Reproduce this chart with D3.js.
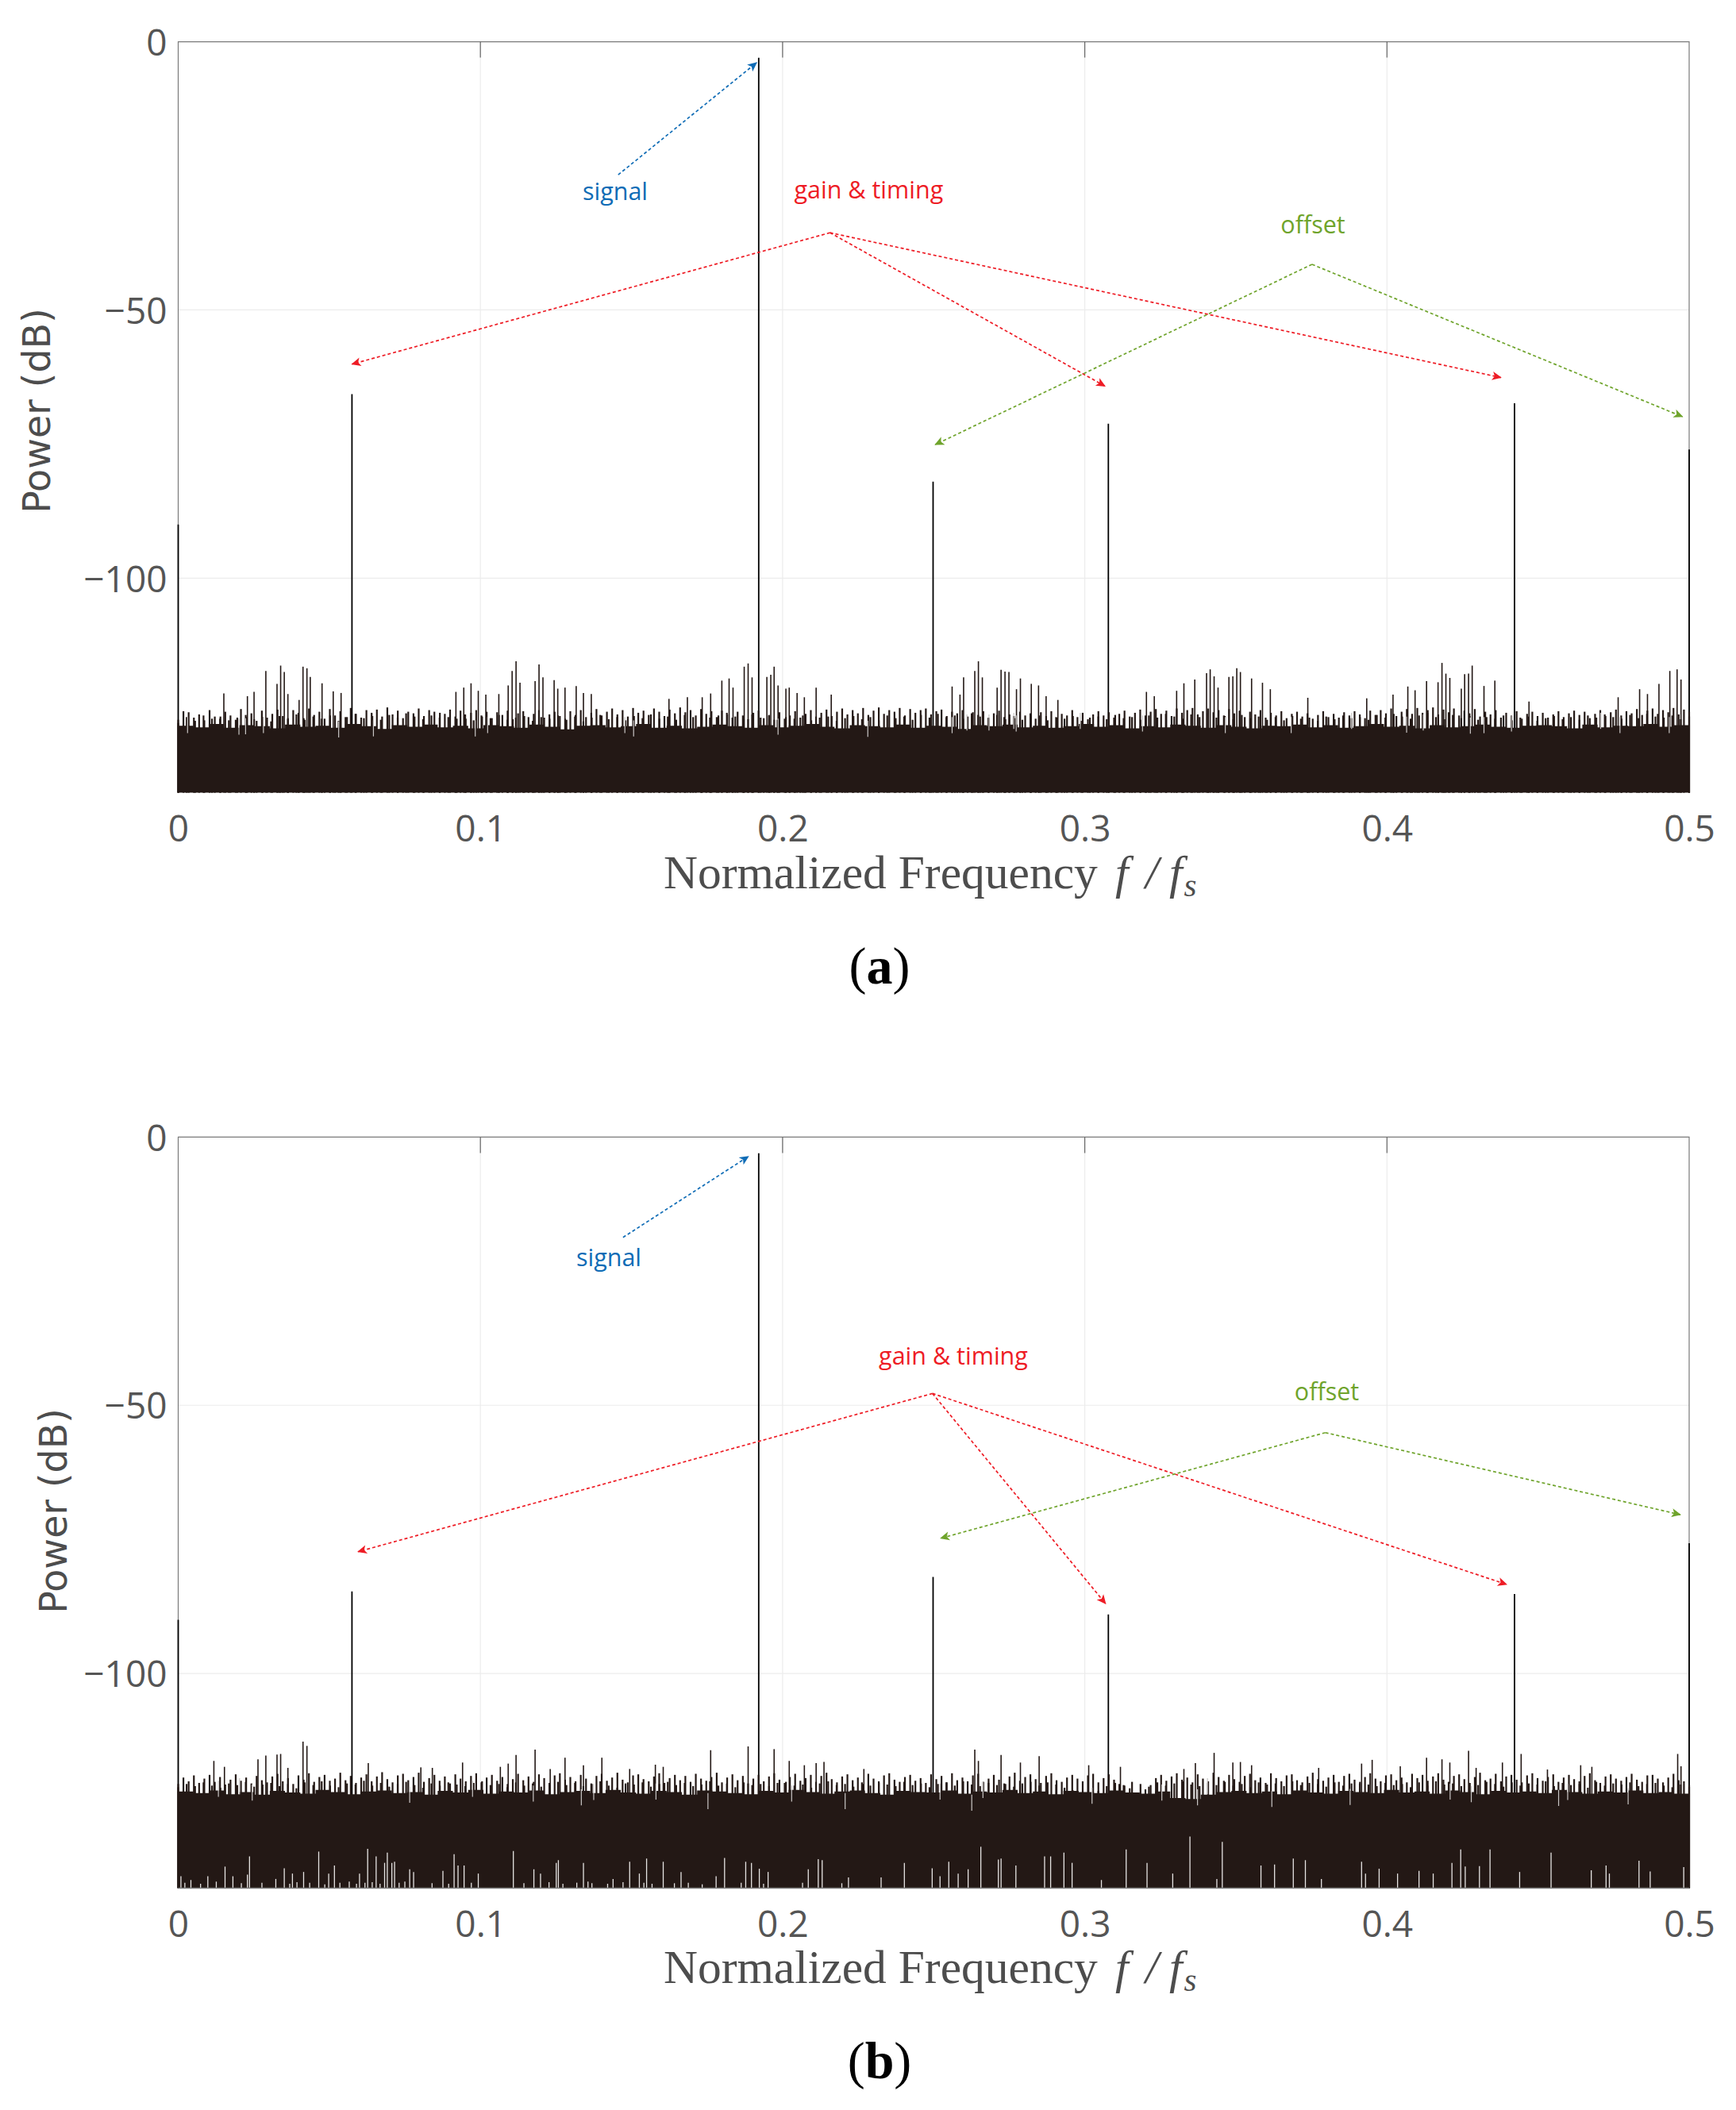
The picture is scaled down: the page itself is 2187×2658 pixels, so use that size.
<!DOCTYPE html>
<html>
<head>
<meta charset="utf-8">
<script src="https://cdn.jsdelivr.net/npm/d3@7"></script>
<style>
  body { margin: 0; background: #fff; }
  text { fill: #4d4d4d; }
</style>
</head>
<body>
<svg id="chart" width="2187" height="2658"></svg>
<script>
const xTicks = [0, 0.1, 0.2, 0.3, 0.4, 0.5];
const yTicks = [0, -50, -100];

// the six tall tones
const toneFreq = [0, 0.0575, 0.1921, 0.2498, 0.3078, 0.4422, 0.5];
const toneA = [-90, -65.7, -3, -82, -71.2, -67.4, -76];
const toneB = [-90, -84.7, -3, -82, -89, -85.2, -75.7];

// solid part of the noise floor, estimated left to right
const floorA = [-127.5,-127.8,-127.2,-127.9,-127.4,-127.6,-128,-127.3,-127.7,-127.5,-127.9,-127.2,-127.6,-128.1,-127.4,-127.7,-127.3,-127.8,-127.5,-128,
  -127.4,-127.6,-127.9,-127.3,-127.7,-128.2,-127.5,-127.4,-127.8,-127.6,-127.2,-127.9,-127.5,-128,-127.7,-127.3,-127.6,-127.9,-127.4,-127.8,
  -127.5,-127.2,-127.7,-128,-127.4,-127.6,-127.8,-127.3,-127.9,-127.5,-127.7,-128.1,-127.4,-127.6,-127.3,-127.8,-127.5,-127.9,-127.6,-127.2,
  -127.7,-127.4,-128,-127.6,-127.8,-127.3,-127.5,-127.9,-127.4,-127.7,-128,-127.5,-127.6,-127.3,-127.8,-127.4,-127.9,-127.6,-127.2,-127.7,
  -127.5,-128,-127.4,-127.8,-127.6,-127.3,-127.7,-127.9,-127.5,-127.4,-127.6,-128,-127.3,-127.8,-127.5,-127.6,-127.2,-127.7,-127.4,-127.6];
const floorB = [-122,-122.3,-121.8,-122.5,-122.1,-122.6,-121.9,-122.2,-122.4,-121.7,-122.1,-122.5,-122,-121.8,-122.3,-122.1,-122.6,-121.9,-122.2,-121.7,
  -122.4,-122,-122.2,-121.8,-122.5,-122.1,-121.9,-122.3,-121.7,-122.2,-122.4,-121.9,-122.1,-122.6,-121.8,-122,-122.3,-122.5,-121.9,-122.2,
  -121.7,-122.1,-122.4,-122,-121.8,-122.3,-122.6,-121.9,-122.1,-122.2,-121.8,-122.4,-122,-122.2,-121.7,-122.3,-122,-122.5,-121.9,-122.1,
  -122.3,-121.8,-122.2,-122.4,-122,-123.2,-123.4,-122.6,-122.1,-121.9,-122.3,-122,-122.5,-121.8,-122.2,-122.4,-121.9,-122.1,-122.3,-121.7,
  -122.2,-122,-122.4,-121.8,-122.1,-122.5,-121.9,-122.2,-122,-122.3,-121.7,-122.1,-122.4,-122,-122.2,-121.8,-122.3,-122.1,-122.4,-122.6];

// thin grass above the floor, evenly spaced bins, estimated by eye
const grassA = [-127,-124.8,-125,-126,-125.4,-126.5,-124.6,-125.8,-126.2,-124.9,-125.6,-126.4,-124.4,-125.9,-125.2,-126.6,-124.7,-126,-125.3,-124.5,
  -125.7,-126.3,-124.6,-125.1,-126.1,-124.3,-125.5,-124.9,-126.2,-124.4,-125.6,-124.8,-125.9,-124.2,-125.3,-126,-124.6,-125.1,-124.5,-125.8,
  -124.1,-125.4,-124.7,-126.1,-124.9,-125.2,-124.3,-125.7,-124.6,-124.9,-126,-125.3,-124.5,-125.8,-124.7,-126.2,-125.1,-124.6,-125.6,-124.9,
  -126.1,-125,-125.5,-124.7,-126.3,-125.2,-124.8,-125.9,-125.3,-124.6,-126,-125.4,-124.9,-125.7,-126.2,-124.8,-125.5,-124.6,-125.9,-125.1,
  -124.4,-125.6,-124.9,-124.3,-125.4,-124.6,-125.8,-124.2,-125.1,-124.7,-125.5,-124.3,-124.9,-125.7,-124.5,-125.2,-124.1,-125,-124.6,-125.6,
  -124.4,-125.3,-124.8,-125.9,-124.7,-125.4,-126,-124.9,-125.6,-126.3,-125.1,-124.7,-126.1,-125.5,-126.4,-125,-126.2,-125.6,-124.8,-126,
  -125.3,-124.6,-125.8,-125.1,-124.5,-125.7,-124.9,-124.3,-125.4,-124.6,-125.2,-124.2,-125.5,-124.7,-124.1,-125.3,-124.6,-124.9,-124.2,-125.6,
  -124.4,-125.1,-124.6,-124.3,-125.4,-124.8,-124.5,-125.7,-124.9,-125.2,-124.6,-125.8,-125,-125.5,-124.8,-126,-125.2,-124.7,-125.9,-125.4,
  -126.1,-124.9,-125.6,-125.2,-126.2,-125,-125.7,-124.8,-126,-125.3,-125.6,-124.6,-125.9,-125.1,-126.3,-125.4,-124.8,-125.6,-125,-126,
  -125.3,-124.7,-125.8,-125.1,-124.5,-125.6,-124.9,-124.4,-125.3,-124.7,-125.7,-124.3,-125.1,-124.6,-124.2,-125.4,-124.8,-124.3,-125,-124.6,
  -125.6,-124.4,-125.2,-124.7,-125.9,-124.9,-125.4,-124.6,-126,-125.1,-125.6,-124.8,-126.1,-125.3,-124.9,-125.8,-125.2,-126.2,-125.5,-124.8,
  -125.9,-125.3,-126,-125,-125.6,-124.8,-125.4,-126.1,-124.7,-125.5,-124.6,-125.2,-124.3,-125.7,-124.9,-124.4,-125.3,-124.2,-125.1,-124.6,
  -124.1,-125.4,-124.5,-125,-124.3,-125.6,-124.7,-125.2,-124.4,-125.8,-124.9,-125.4,-124.6,-126,-125.1,-125.6,-124.8,-126.2,-125.3,-124.9,
  -125.7,-125.1,-126,-125.4,-124.8,-125.9,-125.2,-124.7,-125.5,-124.9,-126.1,-125.3,-124.6,-125.7,-125,-124.5,-125.6,-124.8,-125.2,-124.4,
  -125.5,-124.7,-124.3,-125.3,-124.6,-125,-124.2,-125.4,-124.5,-124.9];
const grassB = [-120.6,-119.4,-120.1,-119,-120.4,-119.6,-118.9,-120.2,-119.3,-120.7,-119.8,-118.8,-120,-119.4,-120.5,-119.1,-119.9,-120.3,-119.2,-118.7,
  -120.1,-119.5,-120.6,-119,-119.8,-118.6,-120.2,-119.3,-118.9,-120,-119.6,-118.5,-119.9,-119.1,-120.4,-119.4,-118.8,-120.1,-119.2,-118.4,
  -119.7,-120.3,-119,-118.7,-119.9,-119.3,-118.5,-120.2,-119.5,-118.9,-120,-119.2,-120.5,-118.8,-119.6,-120.1,-119.1,-118.6,-120.3,-119.4,
  -118.9,-120,-119.3,-120.6,-119.7,-118.7,-119.9,-119.2,-120.2,-118.8,-119.5,-120.4,-119,-118.6,-119.8,-119.3,-120.1,-118.9,-119.6,-120.5,
  -119.1,-118.7,-120,-119.4,-118.5,-119.8,-120.3,-119,-118.8,-119.7,-120.1,-119.2,-118.6,-120.4,-119.5,-118.9,-119.9,-119.1,-120.2,-118.7,
  -119.6,-120,-119.3,-118.5,-120.3,-119.4,-118.8,-119.9,-119.1,-120.5,-119.6,-118.9,-120.1,-119.2,-118.6,-119.8,-120.4,-119.3,-118.7,-120,
  -119.5,-118.9,-120.2,-119.1,-118.5,-119.7,-120.3,-119.2,-118.8,-119.9,-119.4,-120.6,-118.7,-119.6,-120.1,-119,-118.6,-119.8,-120.2,-119.3,
  -118.9,-120,-119.5,-120.4,-118.8,-119.7,-119.1,-120.3,-118.6,-119.9,-119.4,-120.1,-119,-118.7,-120.2,-119.6,-118.9,-119.8,-120.5,-119.2,
  -118.5,-120,-119.3,-118.8,-119.7,-120.4,-119.1,-118.6,-119.9,-120.2,-119.4,-118.9,-119.6,-120.1,-119,-118.7,-120.3,-119.5,-118.8,-119.8,
  -120.6,-120.9,-121.4,-122.2,-122.4,-121.6,-120.8,-119.5,-118.9,-120,-119.2,-118.6,-119.8,-119.4,-120.3,-118.8,-119.6,-120.1,-118.5,-119.3,
  -120,-118.9,-119.7,-120.2,-119.1,-118.7,-119.9,-119.4,-120.4,-118.6,-119.5,-120.1,-119,-118.8,-119.9,-120.3,-119.2,-118.5,-119.7,-120,
  -119.4,-118.9,-120.2,-119.1,-118.7,-119.8,-120.5,-119.3,-118.6,-119.6,-120.1,-119,-118.8,-119.9,-119.4,-120.3,-118.7,-119.5,-118.9,-120,
  -119.2,-118.6,-119.8,-120.2,-119.1,-118.8,-119.7,-120.4,-119.3,-118.5,-119.9,-119.6,-118.7,-120.1,-119.2,-118.9,-119.8,-120.3,-119,-118.6,
  -119.5,-120,-119.3,-118.8,-120.2,-119.4,-118.9,-119.7,-120.1,-119.1,-118.6,-119.9,-120.4,-119.2,-118.8,-119.6,-120,-119.3,-118.7,-119.8,
  -120.2,-119,-118.9,-119.6,-120.3,-119.4,-118.7,-119.9,-120.1,-120.8];

// lower, denser layer of grass between the tips and the floor
const lowGrassA = [-126.4,-125.9,-126.6,-125.6,-126.2,-125.8,-126.5,-126,-125.5,-126.3,-125.9,-126.7,-125.7,-126.1,-125.4,-126.4,-125.8,-126.2,-125.6,-126.6,
  -125.9,-125.3,-126.1,-125.7,-126.4,-125.5,-126,-125.2,-125.8,-126.3,-125.6,-125.1,-125.9,-126.2,-125.4,-126.5,-125.8,-126.1,-125.5,-126.4,
  -126,-125.7,-126.6,-125.9,-126.2,-125.6,-126.4,-125.8,-126.7,-126,-125.5,-126.3,-125.9,-126.5,-125.7,-126.1,-125.4,-126.2,-125.8,-126.4,
  -125.5,-125.9,-125.2,-126,-125.6,-125.1,-125.8,-126.3,-125.4,-126,-125.7,-126.4,-125.9,-126.2,-125.6,-126.5,-126,-125.8,-126.6,-126.1,
  -125.7,-126.3,-125.9,-126.5,-125.6,-126.1,-125.8,-126.4,-125.5,-126,-125.3,-125.9,-125.6,-126.2,-125.2,-125.8,-126.1,-125.5,-126.3,-125.7,
  -126.4,-126,-125.6,-126.5,-125.9,-126.2,-125.7,-126.6,-126,-125.8,-126.3,-125.5,-126.1,-125.9,-126.4,-125.6,-126,-125.3,-125.8,-126.2,
  -125.4,-125.9,-125.2,-126,-125.7,-126.3,-125.5,-126.1,-125.8,-126.4,-125.9,-126.5,-125.7,-126.2,-126,-126.6,-125.8,-126.3,-125.6,-126.1,
  -125.9,-126.4,-125.5,-126,-125.3,-125.8,-126.2,-125.6,-125.1,-125.9,-126.3,-125.5,-126.1,-125.7,-126.4,-125.9,-126.2,-125.6,-126.5,-126,
  -125.8,-126.6,-126.1,-125.7,-126.3,-125.9,-126.4,-125.6,-126,-125.4,-125.9,-126.2,-125.5,-126.1,-125.3,-125.8,-126,-125.6,-126.3,-125.8];
const lowGrassB = [-121.2,-120.6,-121,-120.3,-120.9,-121.3,-120.5,-120.8,-120.2,-121.1,-120.7,-120.4,-121,-120.6,-121.4,-120.3,-120.8,-120.1,-120.9,-121.2,
  -120.5,-120.7,-120,-120.9,-120.4,-121.1,-120.6,-120.2,-120.8,-121.3,-120.5,-120.9,-120.3,-120.7,-121,-120.4,-120.1,-120.8,-120.6,-121.2,
  -120.3,-120.9,-120.5,-121.1,-120.7,-120.2,-120.8,-120.4,-121,-120.6,-120.1,-120.9,-121.3,-120.5,-120.7,-120.3,-121.1,-120.6,-120.2,-120.8,
  -120.4,-121,-120.7,-120.1,-120.9,-120.5,-121.2,-120.3,-120.8,-120.6,-121,-120.4,-120.2,-120.9,-120.7,-121.3,-120.5,-120.1,-120.8,-120.6,
  -121.1,-120.3,-120.9,-120.4,-120.7,-121,-120.2,-120.8,-120.5,-121.2,-120.6,-120.3,-120.9,-120.1,-120.7,-121,-120.4,-120.8,-120.6,-121.1,
  -120.5,-120.2,-120.9,-120.3,-120.7,-121.3,-121.8,-122.4,-122.6,-121.9,-121,-120.4,-120.8,-120.2,-120.6,-121.1,-120.3,-120.9,-120.5,-120.1,
  -120.7,-121,-120.4,-120.8,-120.2,-120.9,-120.6,-121.2,-120.3,-120.7,-120.5,-121,-120.1,-120.8,-120.4,-120.6,-121.1,-120.3,-120.9,-120.5,
  -120.2,-120.7,-121,-120.4,-120.8,-120.6,-121.2,-120.3,-120.9,-120.1,-120.7,-120.5,-121,-120.4,-120.8,-120.2,-120.6,-121.1,-120.3,-120.9,
  -120.5,-120.7,-120.1,-121,-120.4,-120.8,-120.6,-121.3,-120.2,-120.9,-120.5,-120.7,-120.3,-121,-120.6,-120.4,-120.9,-121.2,-120.7,-121.1];

// taller spikes [f, dB] read one by one
const spikesA = [[.0151,-121.5],[.0229,-122],[.0251,-121.2],[.029,-117.3],[.0327,-119.7],[.0339,-116.3],[.0351,-117.5],[.0363,-121.6],[.04,-122.7],[.0413,-116.5],[.0426,-116.8],[.0437,-118.4],[.0476,-119.6],[.0513,-121.1],[.0539,-121.4],
  [.0919,-121.2],[.0945,-120.4],[.0969,-119.6],[.0993,-121],[.1018,-121.7],[.1061,-121.6],[.1092,-120],[.1105,-117.3],[.1118,-115.5],[.1131,-119.5],[.1181,-119.2],[.1194,-116.1],[.1207,-118.5],[.1244,-119],[.1256,-120.6],[.128,-120.4],[.1317,-120.1],[.1341,-121.4],[.1367,-121.6],
  [.1624,-122.5],[.1685,-122.2],[.1734,-122.2],[.1762,-121.5],[.1799,-119.1],[.1823,-118.7],[.1836,-120.4],[.1873,-116.5],[.1886,-115.9],[.1899,-118.5],[.1948,-118.4],[.1961,-118],[.1972,-116.5],[.1985,-120],[.2011,-120.6],[.2022,-120.4],[.2048,-121.4],[.2072,-122.2],[.2111,-120.4],[.2161,-121.7],
  [.2561,-120.2],[.2587,-121.7],[.2599,-118.5],[.2636,-117.3],[.2648,-115.5],[.2661,-118.5],[.271,-120.4],[.2723,-117.1],[.2736,-117.4],[.2749,-117.5],[.2774,-120.7],[.2787,-118.7],[.2823,-119.7],[.2847,-120],[.2872,-122],[.2911,-122.7],
  [.3204,-121.2],[.323,-122],[.3304,-121],[.3328,-119.6],[.3364,-118.9],[.3403,-117.7],[.3415,-117],[.3428,-118.3],[.3441,-120.4],[.3477,-118.4],[.349,-118.3],[.3503,-116.8],[.3515,-117.5],[.3552,-118.7],[.3588,-119.5],[.3614,-120.7],
  [.3738,-122.3],[.3933,-122.4],[.402,-121.7],[.4069,-120.2],[.4093,-120.9],[.4131,-119.2],[.4169,-119.4],[.4182,-115.8],[.4195,-117.8],[.4208,-118.6],[.4246,-120.6],[.4257,-117.9],[.427,-117.8],[.4282,-116.3],[.4321,-120.1],[.4357,-119.1],[.447,-123],[.4765,-122.2],[.4836,-120.7],[.4862,-121.6],[.49,-119.7],[.4936,-117.3],[.496,-117],[.4973,-118.9]];
const spikesB = [[.0118,-116.3],[.0153,-117.4],[.0264,-116],[.029,-115.3],[.0327,-115.1],[.0339,-115],[.0363,-117.6],[.0413,-112.7],[.0426,-113.5],[.0629,-116.7],[.0803,-117.5],[.0841,-117.6],[.0941,-116.6],[.1066,-117.4],[.1092,-116.8],[.1118,-115.2],[.1181,-114.2],[.1231,-117.8],[.128,-115.7],[.1341,-117.1],[.1402,-115.7],[.1494,-117.8],[.1579,-117],[.1605,-117.4],[.1762,-114.3],[.1886,-113.6],[.1972,-114.1],[.2022,-116.3],[.2072,-117.1],[.2111,-116.7],[.2137,-116.5],[.2269,-117.8],
  [.2636,-114.2],[.2648,-116.3],[.2723,-115.2],[.2787,-116.6],[.2849,-115.4],[.3013,-117.1],[.3118,-117.4],[.3328,-117.8],[.3366,-116.7],[.3428,-114.8],[.349,-116.6],[.3515,-116.5],[.3552,-117.1],[.3774,-117.6],[.3916,-116.8],[.3951,-116.1],[.4044,-117.3],[.4131,-115.7],[.4182,-116],[.4208,-116.6],[.427,-114.4],[.4295,-117.6],[.4382,-116.6],[.4444,-115],[.4531,-117.9],[.4641,-117.1],[.4678,-117.4],[.4962,-115],[.4973,-117.3]];

// pale notches cutting down into the band from its top edge
const notchesA = [[.0031,-128.9],[.0201,-129.2],[.0223,-129.1],[.0282,-128.9],[.0531,-129.7],[.0646,-129.5],[.0983,-129.5],[.1024,-128.9],[.1478,-128.9],[.1507,-129.5],[.1985,-129.2],[.2282,-129.6],
  [.2561,-128.9],[.261,-128.4],[.2683,-128.4],[.2765,-128.1],[.2773,-128.6],[.2985,-128.1],[.3191,-128.6],[.3465,-128.9],[.3683,-128.9],[.3883,-128.1],[.4065,-128.8],[.412,-128.4],[.4276,-129],[.4321,-128.9],[.4412,-128.6],[.4707,-128.1],[.4771,-128.9],[.4934,-128.9]];
const notchesB = [[.0133,-123],[.0203,-122.5],[.0245,-123.7],[.0766,-124.1],[.0974,-123],[.1175,-123.9],[.1334,-124.6],[.1375,-123.6],[.1581,-123.5],[.1753,-125.3],[.2030,-123.9],[.2207,-125.3],
  [.2521,-123.5],[.2626,-125.6],[.2663,-123.2],[.3024,-124.3],[.3255,-123.7],[.3373,-124.6],[.3406,-122.5],[.3619,-124.9],[.3878,-124.5],[.4279,-124],[.4568,-124.7],[.4598,-123.6],[.4798,-124.4],[.4209,-123.5]];

// pale slivers rising from the bottom edge in panel (b)
const sliversB = [[.0009,-137.8],[.0042,-138.5],[.0098,-137.8],[.0155,-136],[.0181,-137.8],[.0229,-137.5],[.0236,-134.1],[.0323,-138.3],[.0351,-136.3],[.0378,-137.3],[.0415,-137],[.0465,-133.2],[.0498,-137.3],[.0517,-135.8],[.06,-137.3],[.0627,-132.7],[.0655,-134.1],[.0683,-135.3],[.0692,-133.4],[.0707,-135.3],[.0716,-135.1],[.0766,-136.5],[.0779,-137],[.0876,-136.8],[.0913,-133.7],[.0926,-135.8],[.0946,-135.8],[.0993,-137.3],[.1109,-133.1],[.1177,-136.5],[.1199,-137.3],[.1251,-135.3],[.1258,-134.8],[.1341,-135.3],[.1356,-138.8],[.1439,-138.3],[.1494,-135.1],[.1526,-137.3],[.155,-134.5],[.1605,-135.1],[.1664,-137],[.178,-137.8],[.1808,-134.4],[.1878,-135.1],[.1897,-135.3],[.1923,-136.4],[.1952,-137],[.2085,-136.5],[.2118,-134.6],[.2131,-134.8],[.2218,-138],
  [.2326,-138],[.2403,-135.3],[.2495,-136.3],[.2521,-137.8],[.255,-135.1],[.2581,-137.3],[.2614,-136.5],[.2656,-132.3],[.2714,-134.7],[.2723,-134.5],[.2772,-135.8],[.2867,-134.1],[.2887,-134.1],[.2931,-133.4],[.2958,-135.3],[.3055,-138.5],[.3137,-132.8],[.3206,-135.3],[.3291,-137.3],[.3348,-130.4],[.3455,-131.4],[.3437,-138.3],[.3583,-135.8],[.3628,-135.6],[.369,-134.5],[.373,-134.8],[.3783,-138.3],[.3916,-135.1],[.3929,-137.3],[.3974,-136.4],[.4035,-137.3],[.4106,-136.8],[.4153,-137.3],[.4215,-135.3],[.4244,-132.8],[.4259,-136],[.4306,-135.9],[.4341,-132.8],[.4439,-137],[.4543,-133.4],[.4676,-136.7],[.4725,-135.8],[.4736,-137.3],[.4834,-134.9],[.4871,-136.9],[.4982,-136.1],
  [.0022,-139],[.0074,-139.2],[.0126,-138.8],[.0209,-139.1],[.0277,-139],[.0369,-139.2],[.0393,-138.9],[.0435,-139],[.0485,-139.3],[.0535,-139],[.0566,-138.8],[.059,-139.2],[.0618,-139],[.0642,-138.9],[.0668,-139.2],[.0731,-139],[.075,-138.8],[.084,-139.1],[.0895,-139.2],[.097,-139],[.1144,-139.1],[.1227,-138.9],[.1273,-139.2],[.1319,-139],[.1369,-139.1],[.1421,-139.2],[.1472,-138.9],[.1541,-139],[.1568,-139.2],[.1642,-139.1],[.1688,-139],[.1734,-139.3],[.1863,-139],[.1937,-139.2],[.2066,-139],[.2196,-139.1]];

// annotations: text position, tail point, arrow tips, all in axis units
const notesA = [
  { label: 'signal', color: '#0f6cb6', at: [.1446, -29.5], from: [.1456, -24.8], to: [[.1914, -3.9]] },
  { label: 'gain & timing', color: '#ee1c25', at: [.2285, -29.2], from: [.2157, -35.6], to: [[.0575, -60.1], [.3067, -64.2], [.4377, -62.6]] },
  { label: 'offset', color: '#6fa42c', at: [.3755, -35.7], from: [.3752, -41.5], to: [[.2505, -75.1], [.4978, -69.9]] }
];
const notesB = [
  { label: 'signal', color: '#0f6cb6', at: [.1425, -24], from: [.1472, -18.7], to: [[.1887, -3.6]] },
  { label: 'gain & timing', color: '#ee1c25', at: [.2565, -42.4], from: [.2496, -47.8], to: [[.0595, -77.3], [.3069, -87], [.4396, -83.4]] },
  { label: 'offset', color: '#6fa42c', at: [.3801, -49], from: [.3796, -55.1], to: [[.2523, -74.8], [.4971, -70.4]] }
];

const ink = '#231815';
const svg = d3.select('#chart');
const defs = svg.append('defs');
['#0f6cb6', '#ee1c25', '#6fa42c'].forEach((c, i) => {
  defs.append('marker').attr('id', 'head' + i)
    .attr('viewBox', '-1 -6 14 12').attr('refX', 11).attr('refY', 0)
    .attr('markerWidth', 14).attr('markerHeight', 12)
    .attr('markerUnits', 'userSpaceOnUse').attr('orient', 'auto')
    .append('path').attr('d', 'M0,-5.5 L12,0 L0,5.5 L3,0 Z').attr('fill', c);
});
const headFor = c => ({ '#0f6cb6': 'head0', '#ee1c25': 'head1', '#6fa42c': 'head2' })[c];

function drawPanel(opts) {
  const x = d3.scaleLinear().domain([0, 0.5]).range([224.5, 2128]);
  const y = d3.scaleLinear().domain([-140, 0]).range([opts.top + 946, opts.top]);
  const g = svg.append('g');

  // grid
  g.append('g').selectAll('line').data(xTicks.slice(1, -1)).join('line')
    .attr('x1', d => x(d)).attr('x2', d => x(d)).attr('y1', y(0)).attr('y2', y(-140))
    .attr('stroke', '#ececec').attr('stroke-width', 1.2);
  g.append('g').selectAll('line').data(yTicks.slice(1)).join('line')
    .attr('x1', x(0)).attr('x2', x(0.5)).attr('y1', d => y(d)).attr('y2', d => y(d))
    .attr('stroke', '#ececec').attr('stroke-width', 1.2);

  // box and short top ticks
  g.append('path').attr('fill', 'none').attr('stroke', '#7a7a7a').attr('stroke-width', 1.2)
    .attr('d', `M${x(0)},${y(-140)}V${y(0)}H${x(0.5)}V${y(-140)}`);
  g.append('g').selectAll('line').data(xTicks.slice(1, -1)).join('line')
    .attr('x1', d => x(d)).attr('x2', d => x(d)).attr('y1', y(0)).attr('y2', y(0) + 20)
    .attr('stroke', '#666').attr('stroke-width', 1.2);

  // tones
  g.append('g').selectAll('line').data(d3.zip(toneFreq, opts.tones)).join('line')
    .attr('x1', d => x(d[0])).attr('x2', d => x(d[0]))
    .attr('y1', d => y(d[1])).attr('y2', y(-140))
    .attr('stroke', '#000').attr('stroke-width', 1.8);

  // grass and spikes as stems
  [opts.grass, opts.lowGrass].forEach(series => {
    const binF = d3.scaleLinear().domain([0, series.length - 1]).range([0, 0.5]);
    g.append('g').selectAll('line').data(series).join('line')
      .attr('x1', (d, i) => x(binF(i))).attr('x2', (d, i) => x(binF(i)))
      .attr('y1', d => y(d)).attr('y2', y(-140))
      .attr('stroke', ink).attr('stroke-width', 2.2);
  });
  g.append('g').selectAll('line').data(opts.spikes).join('line')
    .attr('x1', d => x(d[0])).attr('x2', d => x(d[0]))
    .attr('y1', d => y(d[1])).attr('y2', y(-140))
    .attr('stroke', ink).attr('stroke-width', 1.6);

  // solid floor
  const floorF = d3.scaleLinear().domain([0, opts.floor.length - 1]).range([0, 0.5]);
  const area = d3.area().curve(d3.curveStepAfter)
    .x((d, i) => x(floorF(i))).y0(y(-140)).y1(d => y(d));
  g.append('path').datum(opts.floor).attr('d', area).attr('fill', ink);

  // pale notches and slivers
  g.append('g').selectAll('line').data(opts.notches).join('line')
    .attr('x1', d => x(d[0])).attr('x2', d => x(d[0]))
    .attr('y1', d => y(d[1])).attr('y2', d => y(d[1] + 3))
    .attr('stroke', '#c9c6c5').attr('stroke-width', 1.2);
  g.append('g').selectAll('line').data(opts.slivers).join('line')
    .attr('x1', d => x(d[0])).attr('x2', d => x(d[0]))
    .attr('y1', d => y(d[1])).attr('y2', y(-140))
    .attr('stroke', '#e6e4e3').attr('stroke-width', 1.3);
  if (opts.slivers.length) {
    g.append('line').attr('x1', x(0)).attr('x2', x(0.5)).attr('y1', y(-140)).attr('y2', y(-140))
      .attr('stroke', '#7a7a7a').attr('stroke-width', 1.5);
  }

  // tick labels
  const xAxis = d3.axisBottom(x).tickValues(xTicks).tickSize(0).tickPadding(29)
    .tickFormat(d => d === 0 ? '0' : d3.format('.1f')(d));
  const yAxis = d3.axisLeft(y).tickValues(yTicks).tickSize(0).tickPadding(14)
    .tickFormat(d => d3.format('d')(d));
  g.append('g').attr('transform', `translate(0,${y(-140)})`).call(xAxis)
    .call(a => a.select('.domain').remove())
    .selectAll('text').attr('font-family', 'Open Sans').attr('font-size', 46).style('fill', '#555');
  g.append('g').attr('transform', `translate(${x(0)},2)`).call(yAxis)
    .call(a => a.select('.domain').remove())
    .selectAll('text').attr('font-family', 'Open Sans').attr('font-size', 46).style('fill', '#555');

  // axis titles
  g.append('text').attr('transform', `translate(${opts.yLabelX},${opts.top + opts.yLabelDy}) rotate(-90)`)
    .attr('text-anchor', 'middle').attr('dominant-baseline', 'central')
    .attr('font-family', 'DejaVu Sans').attr('font-size', 47.5).text('Power (dB)');
  const xl = g.append('text').attr('x', 836).attr('y', y(-140) + 120)
    .attr('font-family', 'Liberation Serif').attr('font-size', 59.5);
  xl.append('tspan').text('Normalized Frequency');
  xl.append('tspan').attr('x', 1405).attr('font-style', 'italic').text('f');
  xl.append('tspan').attr('x', 1443).attr('font-style', 'italic').text('/');
  xl.append('tspan').attr('x', 1473).attr('font-style', 'italic').text('f');
  xl.append('tspan').attr('dx', 2).attr('dy', 10).attr('font-style', 'italic').attr('font-size', 41).text('s');

  // caption
  const cap = g.append('text').attr('x', opts.capX).attr('y', y(-140) + 240)
    .attr('text-anchor', 'middle').attr('font-family', 'Liberation Serif').attr('font-size', 66).style('fill', '#000');
  cap.append('tspan').text('(');
  cap.append('tspan').attr('font-weight', 'bold').text(opts.cap);
  cap.append('tspan').text(')');

  // annotations
  opts.notes.forEach(n => {
    g.append('text').attr('x', x(n.at[0])).attr('y', y(n.at[1]))
      .attr('text-anchor', 'middle').attr('font-family', 'Open Sans').attr('font-size', 30.5)
      .style('fill', n.color).text(n.label);
    g.append('g').selectAll('line').data(n.to).join('line')
      .attr('x1', x(n.from[0])).attr('y1', y(n.from[1]))
      .attr('x2', d => x(d[0])).attr('y2', d => y(d[1]))
      .attr('stroke', n.color).attr('stroke-width', 1.7).attr('stroke-dasharray', '4 3')
      .attr('marker-end', `url(#${headFor(n.color)})`);
  });
}

drawPanel({ top: 52.6, tones: toneA, floor: floorA, grass: grassA, lowGrass: lowGrassA, spikes: spikesA, notches: notchesA, slivers: [], notes: notesA, cap: 'a', capX: 1108, yLabelX: 46, yLabelDy: 465 });
drawPanel({ top: 1432.4, tones: toneB, floor: floorB, grass: grassB, lowGrass: lowGrassB, spikes: spikesB, notches: notchesB, slivers: sliversB, notes: notesB, cap: 'b', capX: 1108, yLabelX: 67, yLabelDy: 471 });
</script>
</body>
</html>
